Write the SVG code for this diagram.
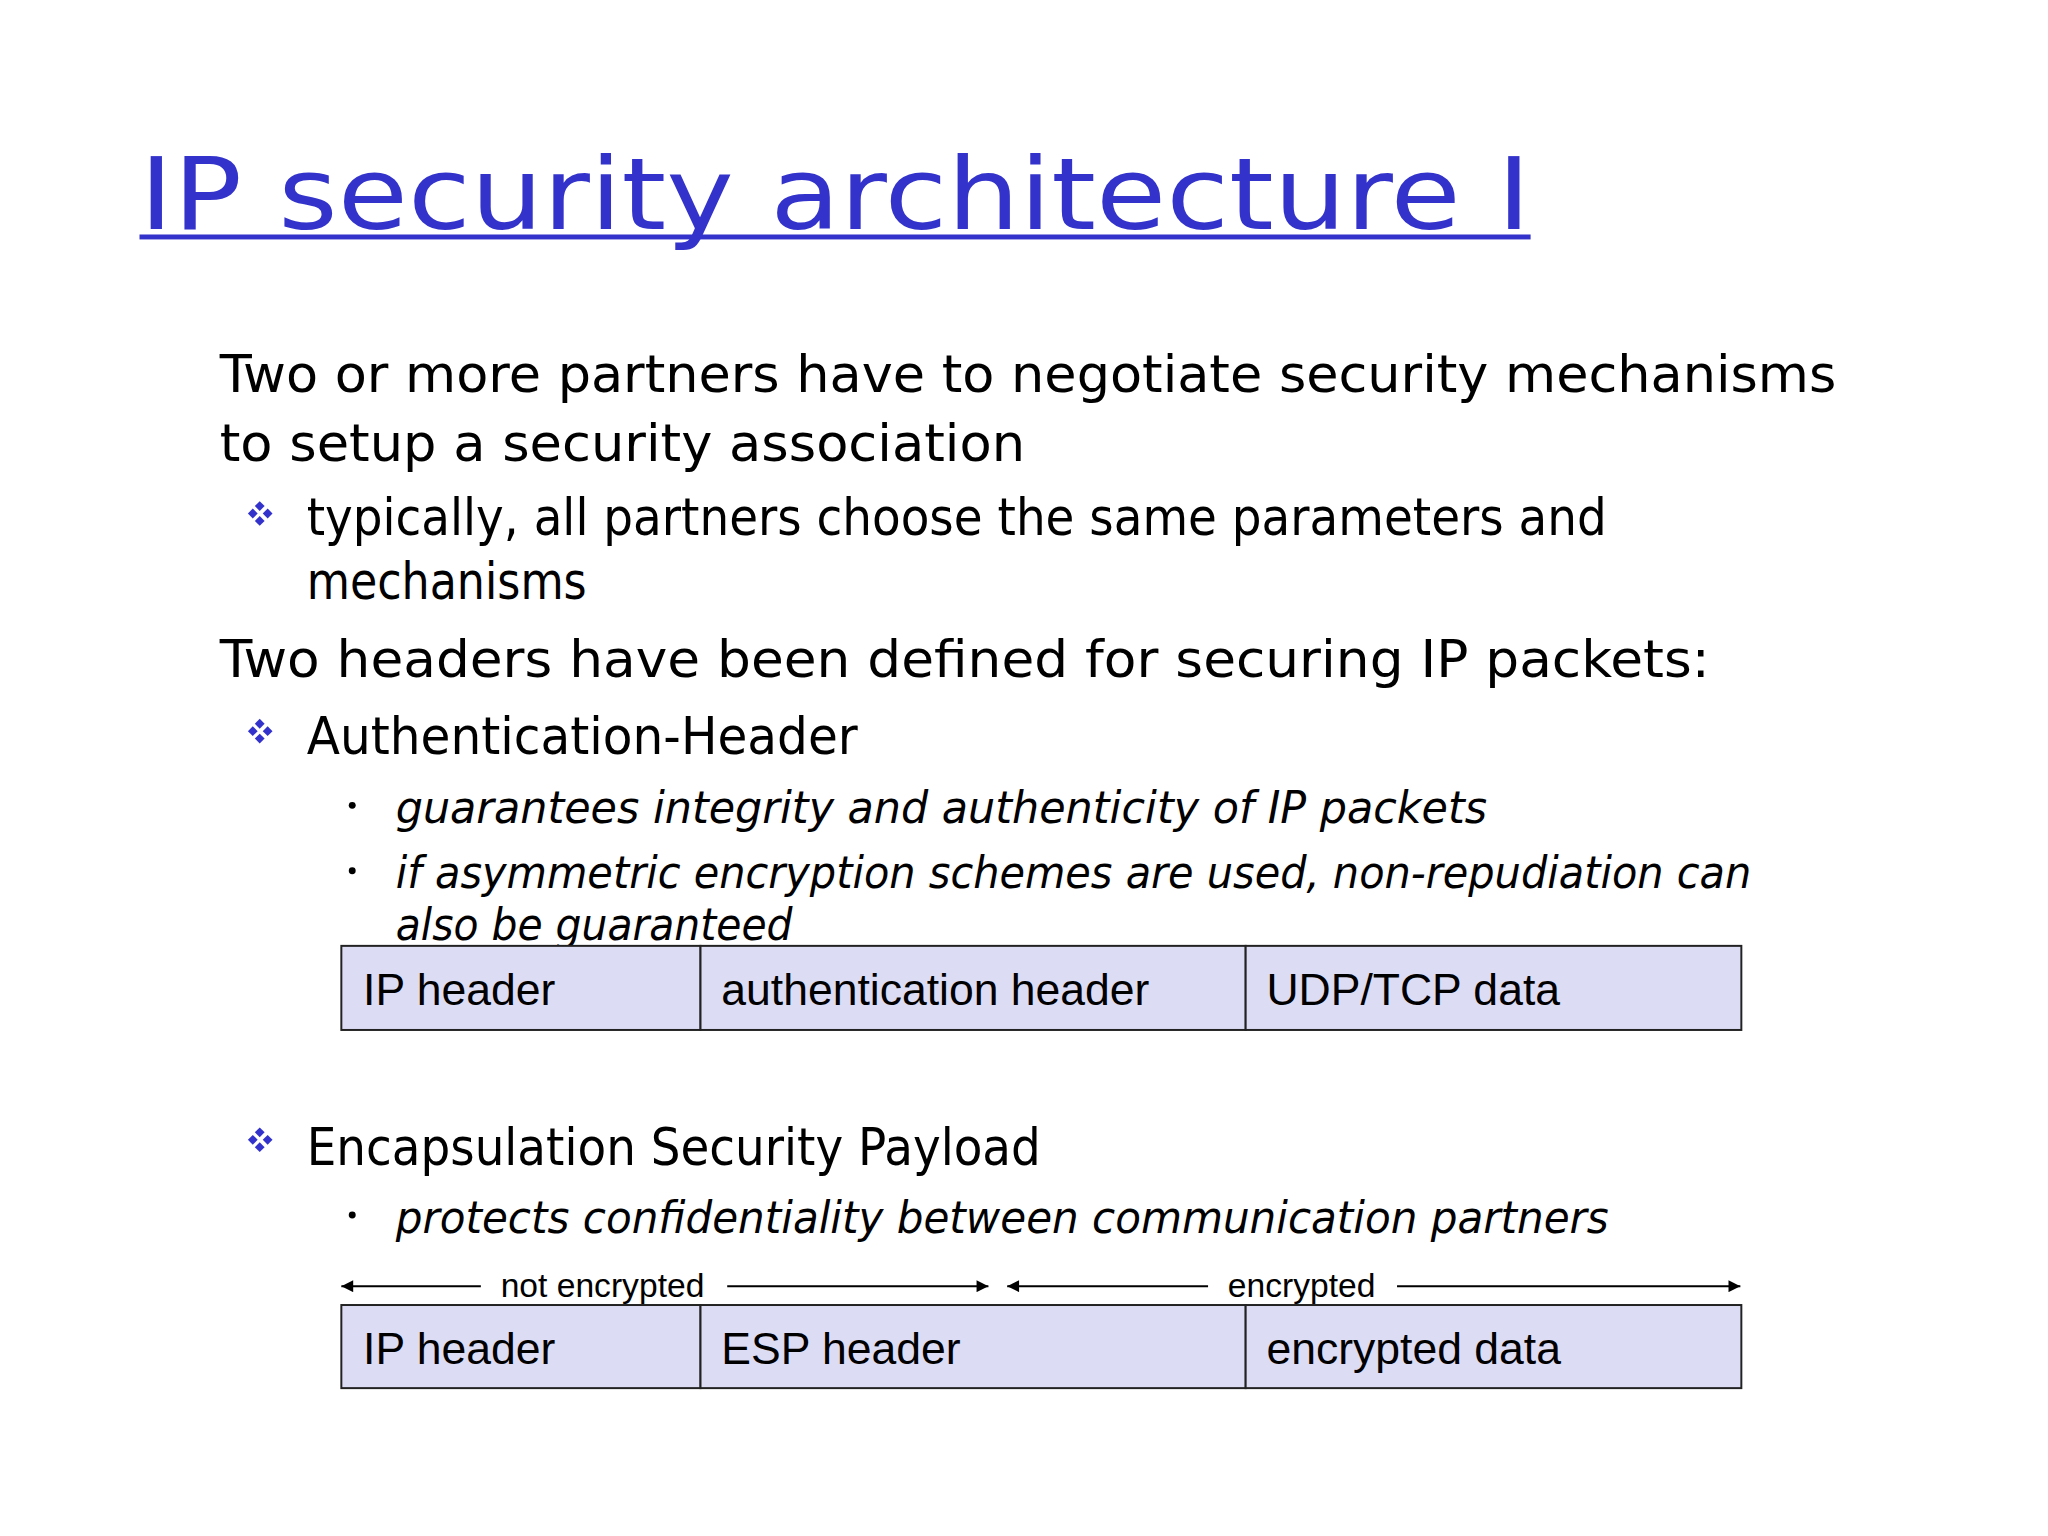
<svg xmlns="http://www.w3.org/2000/svg" width="2048" height="1536" viewBox="0 0 2048 1536">
<style>
.t{font-family:"DejaVu Sans",sans-serif;fill:#000}
.b{font-size:52px}.s{font-size:45px;font-style:italic}
.c{font-family:"Liberation Sans",Arial,sans-serif;font-size:45px;fill:#000}
.box{fill:#dcdcf5;stroke:#222;stroke-width:2}
.d{fill:#3333cc}
.ln{stroke:#000;stroke-width:2;fill:none}
</style>
<defs>
<marker id="ah" viewBox="0 0 10 10" refX="10" refY="5" markerWidth="14" markerHeight="12" orient="auto-start-reverse" markerUnits="userSpaceOnUse"><path d="M0,0L10,5L0,10z" fill="#000"/></marker>
<g id="dia"><rect x="-4" y="-11" width="7" height="7" transform="rotate(45 -0.5 -7.5)"/><rect x="-4" y="4" width="7" height="7" transform="rotate(45 -0.5 7.5)"/><rect x="-11" y="-3.5" width="7" height="7" transform="rotate(45 -7.5 0)"/><rect x="4" y="-3.5" width="7" height="7" transform="rotate(45 7.5 0)"/></g>
</defs>
<g transform="scale(0.9894)">
<g id="title">
<text x="141" y="231" font-family="DejaVu Sans,sans-serif" font-size="100" fill="#3333cc" textLength="1406" lengthAdjust="spacingAndGlyphs">IP security architecture I</text>
<rect x="141" y="237" width="1406" height="5" fill="#3333cc"/>
</g>
<g id="body">
<text class="t b" x="222" y="396" textLength="1634" lengthAdjust="spacingAndGlyphs">Two or more partners have to negotiate security mechanisms</text>
<text class="t b" x="222" y="466" textLength="814" lengthAdjust="spacingAndGlyphs">to setup a security association</text>
<use href="#dia" x="263" y="519" class="d"/>
<text class="t b" x="310" y="541" textLength="1314" lengthAdjust="spacingAndGlyphs">typically, all partners choose the same parameters and</text>
<text class="t b" x="310" y="605" textLength="283" lengthAdjust="spacingAndGlyphs">mechanisms</text>
<text class="t b" x="222" y="684" textLength="1506" lengthAdjust="spacingAndGlyphs">Two headers have been defined for securing IP packets:</text>
<use href="#dia" x="263" y="739" class="d"/>
<text class="t b" x="310" y="762" textLength="557" lengthAdjust="spacingAndGlyphs">Authentication-Header</text>
<circle cx="356" cy="814" r="3.5"/>
<text class="t s" x="400" y="832" textLength="1103" lengthAdjust="spacingAndGlyphs">guarantees integrity and authenticity of IP packets</text>
<circle cx="356" cy="880" r="3.5"/>
<text class="t s" x="400" y="898" textLength="1370" lengthAdjust="spacingAndGlyphs">if asymmetric encryption schemes are used, non-repudiation can</text>
<text class="t s" x="400" y="950" textLength="401" lengthAdjust="spacingAndGlyphs">also be guaranteed</text>
<use href="#dia" x="263" y="1152" class="d"/>
<text class="t b" x="310" y="1177" textLength="742" lengthAdjust="spacingAndGlyphs">Encapsulation Security Payload</text>
<circle cx="356" cy="1228" r="3.5"/>
<text class="t s" x="400" y="1246" textLength="1226" lengthAdjust="spacingAndGlyphs">protects confidentiality between communication partners</text>
</g>
<g id="ah-packet">
<rect class="box" x="345" y="956" width="363" height="85"/>
<rect class="box" x="708" y="956" width="551" height="85"/>
<rect class="box" x="1259" y="956" width="501" height="85"/>
<text class="c" x="367" y="1016">IP header</text>
<text class="c" x="729" y="1016">authentication header</text>
<text class="c" x="1280" y="1016">UDP/TCP data</text>
</g>
<g id="esp-packet">
<rect class="box" x="345" y="1319" width="363" height="84"/>
<rect class="box" x="708" y="1319" width="551" height="84"/>
<rect class="box" x="1259" y="1319" width="501" height="84"/>
<text class="c" x="367" y="1379">IP header</text>
<text class="c" x="729" y="1379">ESP header</text>
<text class="c" x="1280" y="1379">encrypted data</text>
</g>
<g id="connectors">
<line class="ln" x1="486" y1="1300" x2="345" y2="1300" marker-end="url(#ah)"/>
<line class="ln" x1="735" y1="1300" x2="999" y2="1300" marker-end="url(#ah)"/>
<line class="ln" x1="1221" y1="1300" x2="1018" y2="1300" marker-end="url(#ah)"/>
<line class="ln" x1="1412" y1="1300" x2="1759" y2="1300" marker-end="url(#ah)"/>
<text class="c" x="506" y="1311" style="font-size:34px">not encrypted</text>
<text class="c" x="1241" y="1311" style="font-size:34px">encrypted</text>
</g>
</g>
</svg>
